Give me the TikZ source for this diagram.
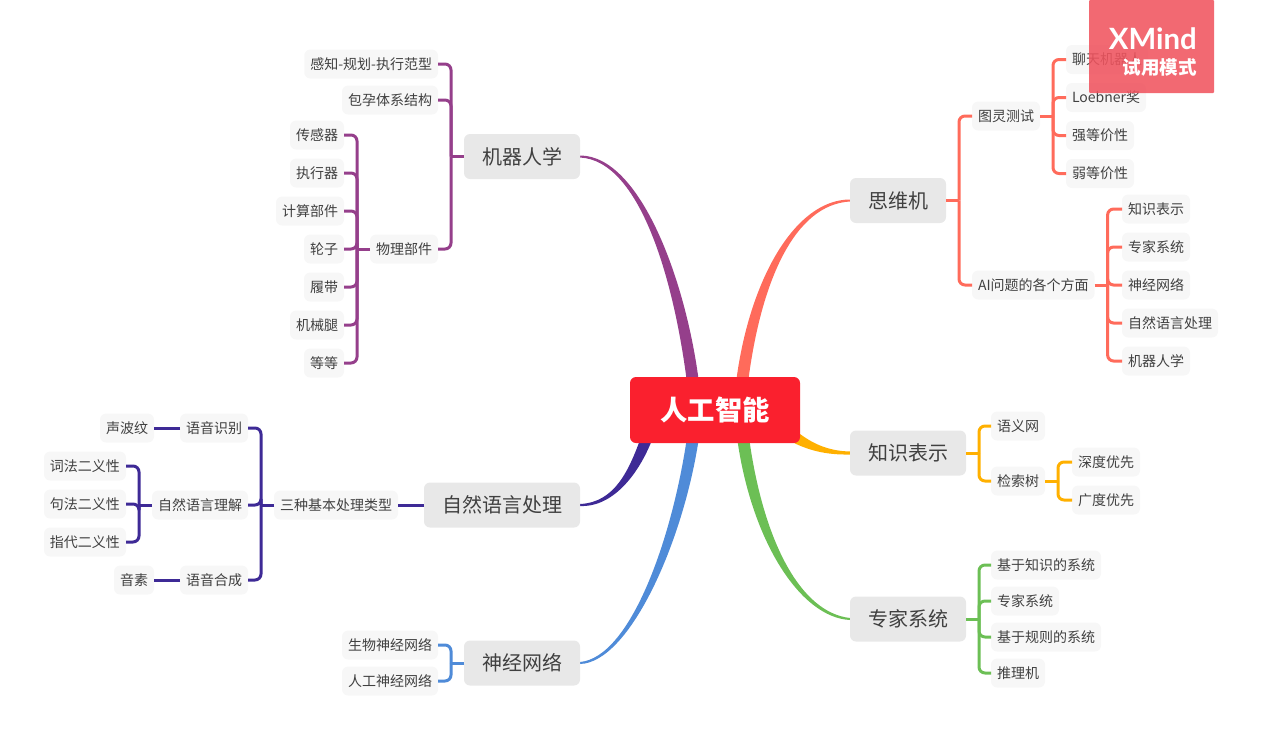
\documentclass[tikz,border=0pt]{standalone}
\usepackage{fontspec}
\setmainfont{Noto Sans CJK SC}
\newfontfamily\markfont{Lato}
\usetikzlibrary{positioning,calc,backgrounds}

\definecolor{rootred}{HTML}{FA202E}
\definecolor{robotc}{HTML}{953F8B}
\definecolor{thinkc}{HTML}{FF6B5B}
\definecolor{knowc}{HTML}{FFB000}
\definecolor{expertc}{HTML}{6CBF55}
\definecolor{neuralc}{HTML}{4F8BD8}
\definecolor{langc}{HTML}{3E2A96}
\definecolor{inkc}{HTML}{404040}
\definecolor{stampc}{HTML}{F0545F}

\tikzset{
  root/.style={fill=rootred,text=white,rounded corners=4.5pt,minimum width=127.5pt,minimum height=49.5pt,font=\fontsize{20.5}{24}\selectfont\bfseries},
  topic/.style={fill=black!9,text=inkc,rounded corners=4.5pt,inner xsep=13.5pt,inner ysep=0pt,outer sep=0pt,minimum height=33.75pt,font=\fontsize{15}{18}\selectfont},
  sub/.style={fill=black!3,text=inkc,rounded corners=4.5pt,inner xsep=4.5pt,inner ysep=0pt,outer sep=0pt,minimum height=21.75pt,font=\fontsize{10.5}{13}\selectfont},
  downr/.style={below=of #1.south west,anchor=north west},
  downl/.style={below=of #1.south east,anchor=north east},
  link/.style={line width=2.25pt,rounded corners=4.5pt}
}

% tapered main branch: colour, topic end, two controls, root end, side
\newcommand{\taper}[6]{
  \fill[#1] ($(#2)+(0,1)$) .. controls ($(#3)+(0,2.5)$) and ($(#4)+(-6*#6,0)$) .. ($(#5)+(-6*#6,0)$)
    -- ($(#5)+(6*#6,0)$) .. controls ($(#4)+(6*#6,0)$) and ($(#3)+(0,-2.5)$) .. ($(#2)+(0,-1)$) -- cycle;
}
% bracket from a parent to its kids, to the right or to the left
\newcommand{\fanr}[3]{
  \draw[link,#1] (#2.east) -- ++(13,0) coordinate (bus);
  \foreach \kid in {#3} \draw[link,#1] (bus) |- (\kid.west);
}
\newcommand{\fanl}[3]{
  \draw[link,#1] (#2.west) -- ++(-13,0) coordinate (bus);
  \foreach \kid in {#3} \draw[link,#1] (bus) |- (\kid.east);
}

\begin{document}
\begin{tikzpicture}[x=0.75pt,y=-0.75pt,node distance=6.75pt]
  \useasboundingbox (0,0) rectangle (1261,740);

  \node[root]  (ai) at (715,410) {人工智能};
  \node[topic] (robot) at (522,156.5) {机器人学};
  \node[topic] (think) at (898,200.5) {思维机};
  \node[topic] (know) at (908,453) {知识表示};
  \node[topic] (expert) at (908,619) {专家系统};
  \node[topic] (lang) at (502,505) {自然语言处理};
  \node[topic] (neural) at (522,663) {神经网络};

  % thinking machine
  \node[sub] (turing) at (1006,116) {图灵测试};
  \node[sub,anchor=west] (chat) at (1066,59.5) {聊天机器人};
  \node[sub,downr=chat] (loebner) {Loebner奖};
  \node[sub,downr=loebner] (strong) {强等价性};
  \node[sub,downr=strong] (weak) {弱等价性};
  \node[sub,anchor=west] (aspect) at (972,285) {AI问题的各个方面};
  \node[sub,anchor=west] (asp1) at (1122,209) {知识表示};
  \node[sub,downr=asp1] (asp2) {专家系统};
  \node[sub,downr=asp2] (asp3) {神经网络};
  \node[sub,downr=asp3] (asp4) {自然语言处理};
  \node[sub,downr=asp4] (asp5) {机器人学};

  % knowledge
  \node[sub,anchor=west] (semnet) at (991,426) {语义网};
  \node[sub,anchor=west] (tree) at (991,481) {检索树};
  \node[sub,anchor=west] (depth) at (1072,462) {深度优先};
  \node[sub,downr=depth] (breadth) {广度优先};

  % expert systems
  \node[sub,anchor=west] (exp1) at (991,565) {基于知识的系统};
  \node[sub,anchor=west] (exp2) at (991,601) {专家系统};
  \node[sub,anchor=west] (exp3) at (991,637) {基于规则的系统};
  \node[sub,anchor=west] (exp4) at (991,673) {推理机};

  % robotics
  \node[sub,anchor=east] (para) at (438,64) {感知-规划-执行范型};
  \node[sub,anchor=east] (arch) at (438,100) {包孕体系结构};
  \node[sub,anchor=east] (parts) at (438,249) {物理部件};
  \node[sub,anchor=east] (sensor) at (344,135) {传感器};
  \node[sub,downl=sensor] (actuator) {执行器};
  \node[sub,downl=actuator] (compute) {计算部件};
  \node[sub,downl=compute] (wheel) {轮子};
  \node[sub,downl=wheel] (track) {履带};
  \node[sub,downl=track] (leg) {机械腿};
  \node[sub,downl=leg] (etc) {等等};

  % language
  \node[sub,anchor=east] (kinds) at (398,505) {三种基本处理类型};
  \node[sub,anchor=east] (speech) at (248,428) {语音识别};
  \node[sub,anchor=east] (nlu) at (248,505) {自然语言理解};
  \node[sub,anchor=east] (synth) at (248,580) {语音合成};
  \node[sub,anchor=east] (voice) at (154,428) {声波纹};
  \node[sub,anchor=east] (amb1) at (126,466) {词法二义性};
  \node[sub,downl=amb1] (amb2) {句法二义性};
  \node[sub,downl=amb2] (amb3) {指代二义性};
  \node[sub,anchor=east] (phone) at (154,580) {音素};

  % neural networks
  \node[sub,anchor=east] (bio) at (438,645) {生物神经网络};
  \node[sub,anchor=east] (art) at (438,681) {人工神经网络};

  \begin{scope}[on background layer]
    \taper{robotc}{robot.east}{640,158}{680,280}{$(ai.north)+(-22,6)$}{1}
    \taper{thinkc}{think.west}{795,202}{755,280}{$(ai.north)+(27,6)$}{-1}
    \taper{expertc}{expert.west}{800,615}{757,540}{$(ai.south)+(28,-6)$}{1}
    \taper{neuralc}{neural.east}{630,660}{678,540}{$(ai.south)+(-22,-6)$}{-1}
    \taper{langc}{lang.east}{615,505}{635,470}{$(ai.south)+(-68,-6)$}{-1}
    \fill[knowc] (know.west |- 0,454.5) .. controls (825,455) and (808,450) .. (792,442)
      -- (800,434) .. controls (815,445) and (830,451) .. (know.west |- 0,451.5) -- cycle;
  \end{scope}

  \fanr{thinkc}{turing}{chat,loebner,strong,weak}
  \fanr{thinkc}{aspect}{asp1,asp2,asp3,asp4,asp5}
  \fanr{thinkc}{think}{turing,aspect}

  \fanr{knowc}{know}{semnet,tree}
  \fanr{knowc}{tree}{depth,breadth}

  \fanr{expertc}{expert}{exp1,exp2,exp3,exp4}

  \fanl{robotc}{robot}{para,arch,parts}
  \fanl{robotc}{parts}{sensor,actuator,compute,wheel,track,leg,etc}

  \draw[link,langc] (lang.west) -- (kinds.east);
  \fanl{langc}{kinds}{speech,nlu,synth}
  \draw[link,langc] (speech.west) -- (voice.east);
  \draw[link,langc] (synth.west) -- (phone.east);
  \fanl{langc}{nlu}{amb1,amb2,amb3}

  \fanl{neuralc}{neural}{bio,art}

  % trial stamp
  \node[fill=stampc,fill opacity=.88,minimum width=93.75pt,minimum height=69.75pt,inner sep=0pt,rounded corners=.75pt] (stamp) at (1151.5,46.5) {};
  \node[anchor=east,text=white,inner sep=0pt,font=\markfont\bfseries\fontsize{22}{26}\selectfont] (brand) at (1197,39) {XMind};
  \node[anchor=east,text=white,inner sep=0pt,font=\bfseries\fontsize{13.9}{16}\selectfont] (trial) at (1197,67) {试用模式};
\end{tikzpicture}
\end{document}
